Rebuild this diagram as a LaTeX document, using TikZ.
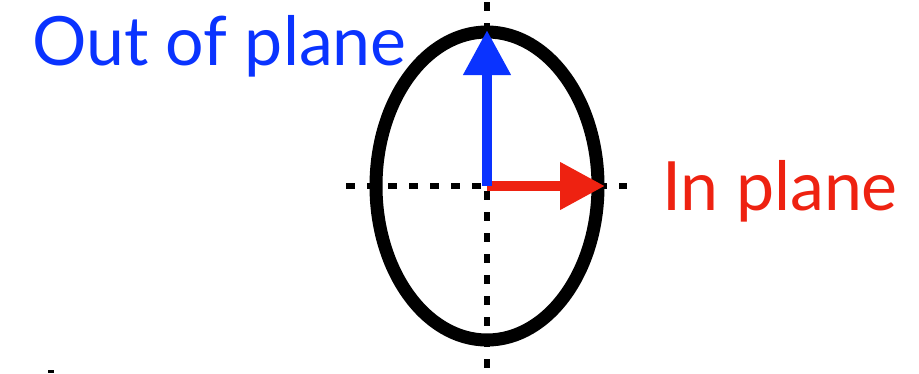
\documentclass[tikz,border=0pt]{standalone}
\usepackage{fontspec}
\setmainfont{Lato}
\usetikzlibrary{arrows.meta}
\definecolor{outblue}{HTML}{0A33FF}
\definecolor{inred}{HTML}{EE2211}
\begin{document}
\begin{tikzpicture}[x=1pt,y=-1pt,
  axisline/.style={line width=5.5pt,dash pattern=on 9pt off 12pt},
  vecarrow/.style={line width=10.5pt,-{Triangle[length=45pt,width=45pt]}},
  lab/.style={inner sep=0pt,font=\fontsize{68}{80}\selectfont}]
\useasboundingbox (0,0) rectangle (919,373);
\coordinate (c) at (487,186);
\coordinate (vtop) at (487,2);
\coordinate (vbot) at (487,373);
\coordinate (hl) at (346,186);
\coordinate (hr) at (627,186);
\coordinate (btip) at (487,30);
\coordinate (rtip) at (605,186);
\draw[axisline] (vtop) -- (vbot);
\draw[axisline] (hl) -- (hr);
\draw[line width=13pt] (c) ellipse [x radius=111, y radius=154];
\draw[vecarrow,inred] (c) -- (rtip);
\draw[vecarrow,outblue] ([yshift=0.5pt]c) -- (btip);
\node[lab,text=outblue,anchor=base west] (out) at (32,65) {Out of plane};
\node[lab,text=inred,anchor=base west] (in) at (662,210) {In plane};
\fill (48,370) rectangle (54,373);
\end{tikzpicture}
\end{document}
